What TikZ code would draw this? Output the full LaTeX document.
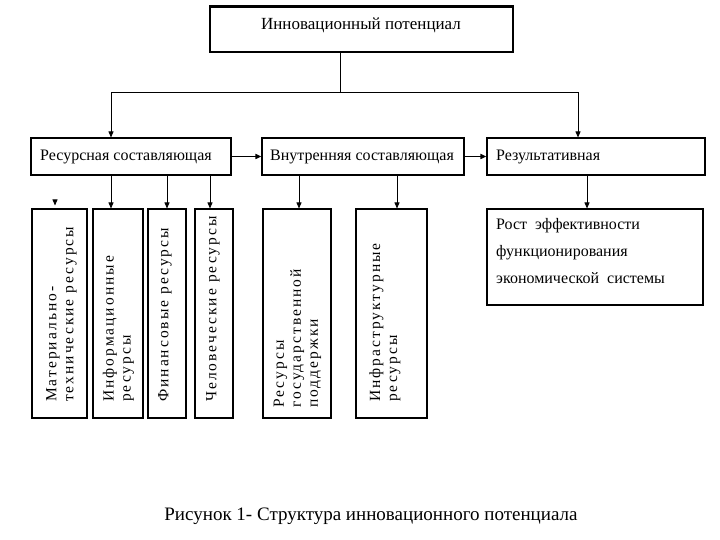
\documentclass[tikz,border=0pt]{standalone}
\usepackage{fontspec}
\setmainfont{Liberation Serif}
\usetikzlibrary{arrows.meta,positioning,calc}
\tikzset{
  box/.style={draw, line width=1.1pt, rectangle, inner sep=0pt},
  lbl/.style={font=\fontsize{16}{18}\selectfont, anchor=west, inner sep=0pt},
  vtext/.style={rotate=90, anchor=west, align=left, inner sep=0pt,
    font=\fontsize{15.5}{17}\selectfont\addfontfeature{LetterSpace=13}},
  conn/.style={line width=0.8pt, -{Triangle[length=6pt,width=5pt]}},
  plain/.style={line width=0.8pt},
}
\begin{document}
\begin{tikzpicture}[x=1pt,y=-1pt]
\useasboundingbox (0,0) rectangle (720,540);
% top box
\node[box, minimum width=303pt, minimum height=45pt] (top) at (361.5,29.5) {};
\draw[line width=2pt] (top.north west) -- (top.north east);
\node[font=\fontsize{17}{19}\selectfont, inner sep=0pt] (toptxt) at (361,25) {Инновационный потенциал};
% second row
\node[box, minimum width=200pt, minimum height=37pt] (res) at (131,156.5) {};
\node[lbl] (restxt) at (40,156.5) {Ресурсная составляющая};
\node[box, minimum width=202pt, minimum height=37pt] (vn) at (363,156.5) {};
\node[lbl] (vntxt) at (270,156.5) {Внутренняя составляющая};
\node[box, minimum width=218pt, minimum height=37pt] (rez) at (596,156.5) {};
\node[lbl] (reztxt) at (496,156.5) {Результативная};
% bottom boxes
\node[box, minimum width=55pt, minimum height=209pt] (b1) at (59.5,313.5) {};
\node[box, minimum width=50pt, minimum height=209pt] (b2) at (118,313.5) {};
\node[box, minimum width=38pt, minimum height=209pt] (b3) at (167,313.5) {};
\node[box, minimum width=38pt, minimum height=209pt] (b4) at (214,313.5) {};
\node[box, minimum width=68pt, minimum height=209pt] (b5) at (297,313.5) {};
\node[box, minimum width=71pt, minimum height=209pt] (b6) at (391.5,313.5) {};
\node[box, minimum width=216pt, minimum height=96pt] (rost) at (595,257) {};
% vertical texts
\node[vtext] (t1) at (61.5,402) {Материально-\\технические ресурсы};
\node[vtext] (t2) at (118.5,402) {Информационные\\ресурсы};
\node[vtext] (t3) at (165,402) {Финансовые ресурсы};
\node[vtext] (t4) at (213,402) {Человеческие ресурсы};
\node[vtext] (t5) at (297.5,408) {Ресурсы\\государственной\\поддержки};
\node[vtext] (t6) at (385,402) {Инфраструктурные\\ресурсы};
\node[font=\fontsize{16}{27}\selectfont, align=left, anchor=north west, inner sep=0pt] (rosttxt) at (496,218)
  {Рост\ \ эффективности\\функционирования\\экономической\ \ системы};
% caption
\node[font=\fontsize{19}{21}\selectfont, inner sep=0pt] (cap) at (371,516) {Рисунок 1- Структура инновационного потенциала};
% connectors
\coordinate (j) at (340,92);
\draw[plain] (top.south -| j) -- (j);
\draw[conn] (j) -| ([xshift=-20pt]res.north);
\draw[conn] (j) -| ([xshift=-18pt]rez.north);
\draw[conn, line width=1.6pt] (res.east) -- (vn.west);
\draw[conn, line width=1.6pt] (vn.east) -- (rez.west);
\draw[conn] ([xshift=-20pt]res.south) coordinate (a2) -- (a2 |- b2.north);
\draw[conn] (res.south -| b3.north) -- (b3.north);
\draw[conn] ([xshift=-4pt]b4.north |- res.south) -- ([xshift=-4pt]b4.north);
\draw[conn] ([xshift=-4.5pt,yshift=8pt]b1.north) coordinate (a1) -- ([xshift=-4.5pt,yshift=3pt]b1.north);
\draw[conn] ([xshift=2pt]b5.north |- vn.south) -- ([xshift=2pt]b5.north);
\draw[conn] ([xshift=5.5pt]b6.north |- vn.south) -- ([xshift=5.5pt]b6.north);
\draw[conn] ([xshift=-8pt]rost.north |- rez.south) -- ([xshift=-8pt]rost.north);
\end{tikzpicture}
\end{document}
